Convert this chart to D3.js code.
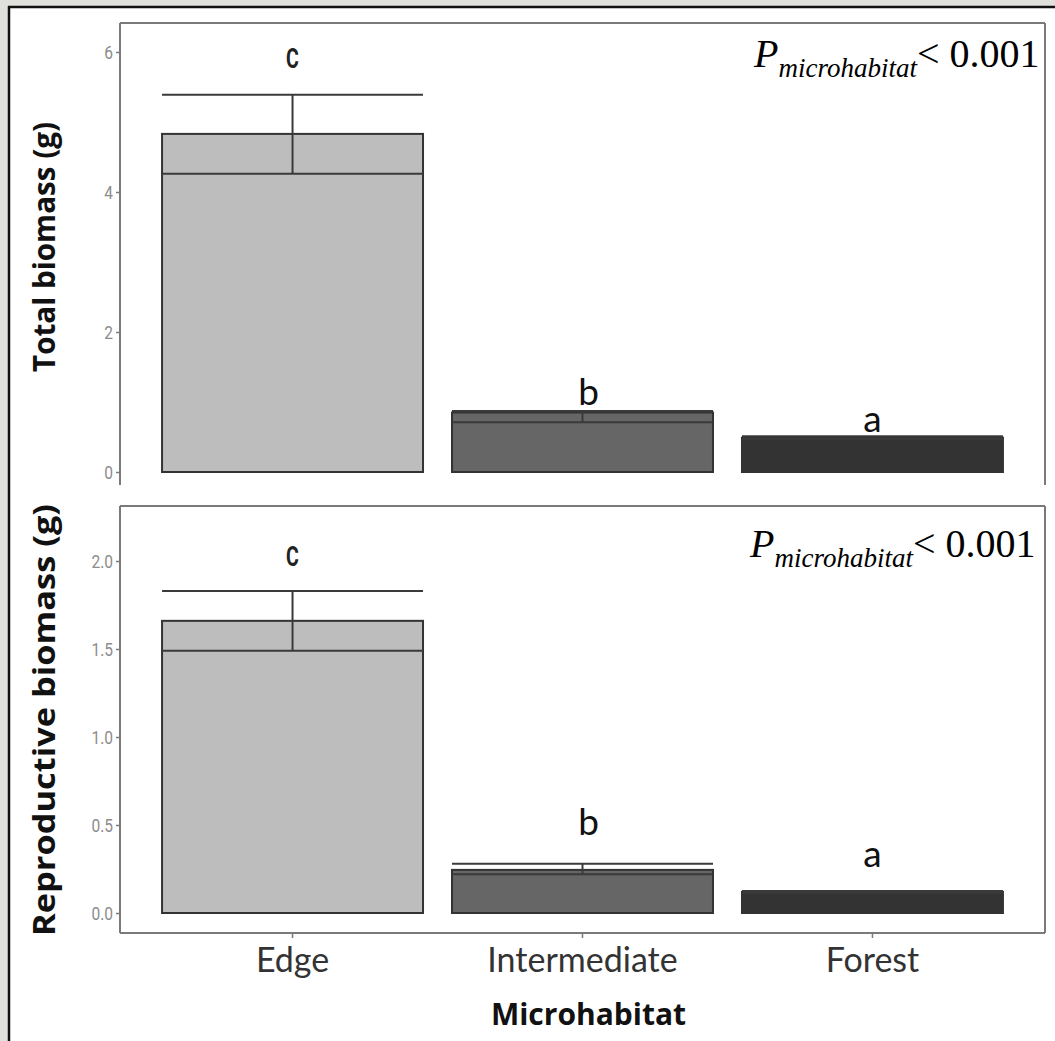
<!DOCTYPE html>
<html>
<head>
<meta charset="utf-8">
<script src="https://cdn.jsdelivr.net/npm/d3@7"></script>
<style>
  html, body { margin: 0; padding: 0; background: #e0e0dc; }
  svg { display: block; }
</style>
</head>
<body>
<svg id="chart" width="1055" height="1041"></svg>
<script>
// Microhabitat categories
const categories = ["Edge", "Intermediate", "Forest"];

// Total biomass (g): means and error bar limits
const totalMean  = [4.83, 0.85, 0.49];
const totalLower = [4.26, 0.71, 0.47];
const totalUpper = [5.39, 0.87, 0.51];
const totalLetters = ["C", "b", "a"];
const totalTicks = [0, 2, 4, 6];

// Reproductive biomass (g): means and error bar limits
const reproMean  = [1.66, 0.245, 0.12];
const reproLower = [1.49, 0.22, 0.115];
const reproUpper = [1.83, 0.28, 0.125];
const reproLetters = ["C", "b", "a"];
const reproTicks = [0, 0.5, 1.0, 1.5, 2.0];

const fills = ["#bdbdbd", "#666666", "#333333"];
const pText = ["P", "microhabitat", "< 0.001"];

const svg = d3.select("#chart");

// page frame: grey margin with a dark rule on the left and top
svg.append("rect").attr("x", 0).attr("y", 0).attr("width", 1055).attr("height", 1041).attr("fill", "#e0e0dc");
svg.append("rect").attr("x", 9).attr("y", 7).attr("width", 1046).attr("height", 1034).attr("fill", "#ffffff");
svg.append("line").attr("x1", 9).attr("x2", 9).attr("y1", 6).attr("y2", 1041).attr("stroke", "#111").attr("stroke-width", 2.5);
svg.append("line").attr("x1", 8).attr("x2", 1055).attr("y1", 7).attr("y2", 7).attr("stroke", "#111").attr("stroke-width", 2.5);

const left = 120, right = 1045;
const x = d3.scaleBand().domain(categories).range([left, right]).paddingInner(0.1).paddingOuter(0.145);

const frameColor = "#7a7a7a";

function panel(cfg) {
  const g = svg.append("g");
  const y = d3.scaleLinear().domain(cfg.domain).range(cfg.range);

  // frame
  const fr = g.append("g").attr("fill", "none").attr("stroke", frameColor).attr("stroke-width", 2);
  fr.append("line").attr("x1", left).attr("x2", left).attr("y1", cfg.top).attr("y2", cfg.bottom);
  fr.append("line").attr("x1", left).attr("x2", right).attr("y1", cfg.top).attr("y2", cfg.top);
  fr.append("line").attr("x1", right).attr("x2", right).attr("y1", cfg.top).attr("y2", cfg.bottom);
  if (cfg.closed) {
    fr.append("line").attr("x1", left).attr("x2", right).attr("y1", cfg.bottom).attr("y2", cfg.bottom);
  }

  // y axis
  const ax = g.append("g").attr("transform", `translate(${left},0)`)
    .call(d3.axisLeft(y).tickValues(cfg.ticks).tickFormat(cfg.fmt).tickSize(4).tickPadding(3));
  ax.select(".domain").remove();
  ax.selectAll(".tick line").attr("stroke", frameColor).attr("stroke-width", 1.5);
  ax.selectAll(".tick text")
    .attr("fill", "#8c8c8c")
    .style("font-family", "Roboto, sans-serif")
    .style("font-size", "19px")
    .attr("transform", function() { return `translate(-7,0) scale(0.82,1) translate(7,0)`; });

  // bars
  g.selectAll("rect.bar").data(categories).join("rect")
    .attr("class", "bar")
    .attr("x", d => x(d))
    .attr("width", x.bandwidth())
    .attr("y", (d, i) => y(cfg.mean[i]))
    .attr("height", (d, i) => y(0) - y(cfg.mean[i]))
    .attr("fill", (d, i) => fills[i])
    .attr("stroke", "#333")
    .attr("stroke-width", 2);

  // error bars with full-width whiskers
  const eb = g.append("g").attr("stroke", "#3a3a3a").attr("stroke-width", 2);
  categories.forEach((c, i) => {
    const cx = x(c) + x.bandwidth() / 2;
    eb.append("line").attr("x1", cx).attr("x2", cx).attr("y1", y(cfg.lower[i])).attr("y2", y(cfg.upper[i]));
    [cfg.lower[i], cfg.upper[i]].forEach(v => {
      eb.append("line").attr("x1", x(c)).attr("x2", x(c) + x.bandwidth()).attr("y1", y(v)).attr("y2", y(v));
    });
  });

  // significance letters
  categories.forEach((c, i) => {
    const cx = x(c) + x.bandwidth() / 2;
    const letter = cfg.letters[i];
    if (i === 0) {
      // narrow bold capital above the tallest bar
      g.append("text").attr("text-anchor", "middle").text(letter)
        .attr("transform", `translate(${cx},${y(cfg.upper[i]) - cfg.capGap}) scale(0.7,1)`)
        .style("font-family", "Roboto, 'DejaVu Sans', sans-serif")
        .style("font-weight", "bold").style("font-size", "28px").attr("fill", "#222");
    } else {
      g.append("text").attr("text-anchor", "middle").text(letter)
        .attr("x", cx + (i === 1 ? 6 : 0)).attr("y", y(cfg.upper[i]) - cfg.letterGap[i])
        .style("font-family", "Lato, 'Open Sans', sans-serif")
        .style("font-size", "37px").attr("fill", "#111");
    }
  });

  // P value annotation
  const p = g.append("text").attr("x", cfg.pX).attr("y", cfg.pY)
    .style("font-family", "'Liberation Serif', 'DejaVu Serif', serif").attr("fill", "#000");
  p.append("tspan").text(pText[0]).style("font-style", "italic").style("font-size", "40px");
  p.append("tspan").text(pText[1]).style("font-style", "italic").style("font-size", "27px").attr("dy", 10);
  p.append("tspan").text(pText[2]).style("font-size", "40px").attr("dy", -10);

  // y title
  svg.append("text")
    .attr("transform", `translate(${cfg.titleX},${cfg.titleY}) rotate(-90)`)
    .attr("text-anchor", "middle")
    .attr("textLength", cfg.titleLen).attr("lengthAdjust", "spacingAndGlyphs")
    .style("font-family", "'Open Sans', sans-serif").style("font-weight", "bold")
    .style("font-size", cfg.titleSize + "px").attr("fill", "#111")
    .text(cfg.title);

  return y;
}

panel({
  domain: [0, 6], range: [472, 52], top: 23, bottom: 485, closed: false,
  ticks: totalTicks, fmt: d3.format("d"),
  mean: totalMean, lower: totalLower, upper: totalUpper, letters: totalLetters,
  capGap: 27, letterGap: [0, 6, 4],
  pX: 754, pY: 67,
  title: "Total biomass (g)", titleX: 55, titleY: 247, titleSize: 30, titleLen: 250
});

panel({
  domain: [0, 2], range: [913, 561], top: 506, bottom: 933, closed: true,
  ticks: reproTicks, fmt: d3.format(".1f"),
  mean: reproMean, lower: reproLower, upper: reproUpper, letters: reproLetters,
  capGap: 25, letterGap: [0, 29, 24],
  pX: 750, pY: 557,
  title: "Reproductive biomass (g)", titleX: 55, titleY: 720, titleSize: 31, titleLen: 432
});

// x axis of the lower panel
const xa = svg.append("g").attr("transform", "translate(0,933)")
  .call(d3.axisBottom(x).tickSize(5).tickPadding(10));
xa.select(".domain").remove();
xa.selectAll(".tick line").attr("stroke", frameColor).attr("stroke-width", 1.5);
xa.selectAll(".tick text")
  .attr("fill", "#333")
  .style("font-family", "Lato, 'Open Sans', sans-serif")
  .style("font-size", "34px");

svg.append("text")
  .attr("x", x("Intermediate") + x.bandwidth() / 2 + 6).attr("y", 1025)
  .attr("text-anchor", "middle")
  .style("font-family", "'Open Sans', sans-serif").style("font-weight", "bold")
  .style("font-size", "30px").attr("fill", "#111")
  .text("Microhabitat");
</script>
</body>
</html>
